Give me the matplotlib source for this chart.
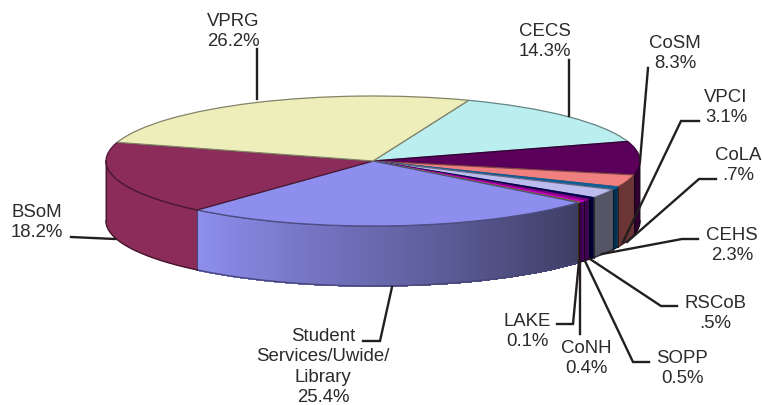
import numpy as np
import matplotlib
matplotlib.use("Agg")
import matplotlib.pyplot as plt
from matplotlib.colors import to_rgb
from matplotlib.transforms import Affine2D

# ---- data ----
categories = ["CECS", "CoSM", "VPCI", "CoLA", "CEHS", "RSCoB", "SOPP", "CoNH", "LAKE",
              "Student\nServices/Uwide/\nLibrary", "BSoM", "VPRG"]
values = [14.3, 8.3, 3.1, 0.7, 2.3, 0.5, 0.5, 0.4, 0.1, 25.4, 18.2, 26.2]
value_labels = ["14.3%", "8.3%", "3.1%", ".7%", "2.3%", ".5%", "0.5%", "0.4%", "0.1%",
                "25.4%", "18.2%", "26.2%"]
top_colors = ["#BBEEEE", "#5A005A", "#F08080", "#0B5F96", "#BBBBEE", "#00004E",
              "#800080", "#C000C0", "#808000", "#8E8EEE", "#8B2C5A", "#EEEEBB"]
wall_colors = ["#5E7777", "#2E002E", "#6B3535", "#003052", "#555566", "#000033",
               "#400050", "#400050", "#707000", "#8E8EEE", "#8B2C5A", "#777755"]

# ---- layout (pixels) ----
W, H = 762, 406
CX, CY, A, B, DEPTH = 373, 162, 267, 65, 60
START = 69
label_pos = [(545, 41.5), (675, 53.5), (726, 107.5), (738, 165.5), (732, 245.5), (715, 313.5),
             (682, 368.5), (586, 358.5), (527, 331.5), (323, 367), (37, 222.5), (233, 31.5)]
leaders = [
    [(569, 61), (569, 117)],
    [(648, 69), (640, 162)],
    [(699, 122), (681, 122), (623, 243)],
    [(716, 180), (699, 180), (627, 243)],
    [(698, 240), (682, 240), (602, 255)],
    [(677, 307), (661, 307), (590, 260)],
    [(649, 363), (633, 363), (585, 262)],
    [(580, 335), (580, 262)],
    [(557, 325), (573, 325), (579, 262)],
    [(363, 342), (380, 342), (392, 288)],
    [(71, 238), (115, 240)],
    [(257, 50), (257, 100)],
]

plt.rcParams["font.family"] = ["Liberation Sans", "DejaVu Sans"]
fig = plt.figure(figsize=(W / 100, H / 100), dpi=100, facecolor="white")
ax = fig.add_axes([0, 0, 1, 1])


def darken(c, f=0.55):
    return tuple(v * f for v in to_rgb(c))


# squashed pie: one data unit = A px in x, B px in y
wedges, _ = ax.pie(values, colors=top_colors, startangle=START, counterclock=False,
                   radius=1.0, center=(0, 0), frame=True,
                   wedgeprops=dict(linewidth=0.9))
for w, c, v in zip(wedges, top_colors, values):
    w.set_edgecolor(darken(c) if v > 1 else c)
    w.set_zorder(5)
ax.set_aspect("auto")
ax.set_xlim(-CX / A, (W - CX) / A)
ax.set_ylim(-(H - CY) / B, CY / B)
ax.set_xticks([])
ax.set_yticks([])
ax.axis("off")

# side wall of the pie, built from the same slice angles
d = DEPTH / B
light = np.array(to_rgb("#8E8EEE"))
dark = np.array(to_rgb("#3C3C62"))
ax.plot([-1, -1], [0, -d], color="#B8B8B8", lw=1.2, zorder=1)
ax.plot([1, 1], [0, -d], color="#B8B8B8", lw=1.2, zorder=1)
angle = START
for name, v, c in zip(categories, values, wall_colors):
    a0, a1 = angle, angle - v * 3.6
    angle = a1
    hi, lo = min(a0, 0), max(a1, -180)   # only the front-facing part shows
    if hi <= lo:
        continue
    th = np.radians(np.linspace(hi, lo, max(2, int((hi - lo) * 3)) + 1))
    xs, ys = np.cos(th), np.sin(th)
    if name.startswith("Student"):
        for k in range(len(th) - 1):
            t = k / (len(th) - 2)
            col = tuple(dark * (1 - t) + light * t)
            ax.fill([xs[k], xs[k + 1], xs[k + 1], xs[k]],
                    [ys[k], ys[k + 1], ys[k + 1] - d, ys[k] - d],
                    facecolor=col, edgecolor=col, lw=0.8, antialiased=False, zorder=2)
    else:
        ax.fill(np.r_[xs, xs[::-1]], np.r_[ys, ys[::-1] - d], facecolor=c,
                edgecolor=c, lw=0.4, zorder=2)
    edge = darken(c, 0.5)
    ax.plot(xs, ys - d, color=edge, lw=1.0, zorder=3)
    ax.plot(xs, ys, color=edge, lw=1.0, zorder=3)
    ax.plot([xs[-1], xs[-1]], [ys[-1], ys[-1] - d], color=edge, lw=0.8, zorder=3)

# labels and leader lines
px = Affine2D().scale(1 / W, -1 / H).translate(0, 1) + fig.transFigure
for pts in leaders:
    xs, ys = zip(*pts)
    fig.add_artist(plt.Line2D(xs, ys, transform=px, color="#231F20", lw=1.7,
                              solid_joinstyle="miter", zorder=8))
for name, val, (x, y) in zip(categories, value_labels, label_pos):
    fig.text(x, y, f"{name}\n{val}", transform=px, ha="center", va="center",
             multialignment="center", fontsize=13.4, color="#2B2B2B",
             linespacing=1.24, zorder=9)

fig.savefig("out.png", dpi=100, facecolor="white")
